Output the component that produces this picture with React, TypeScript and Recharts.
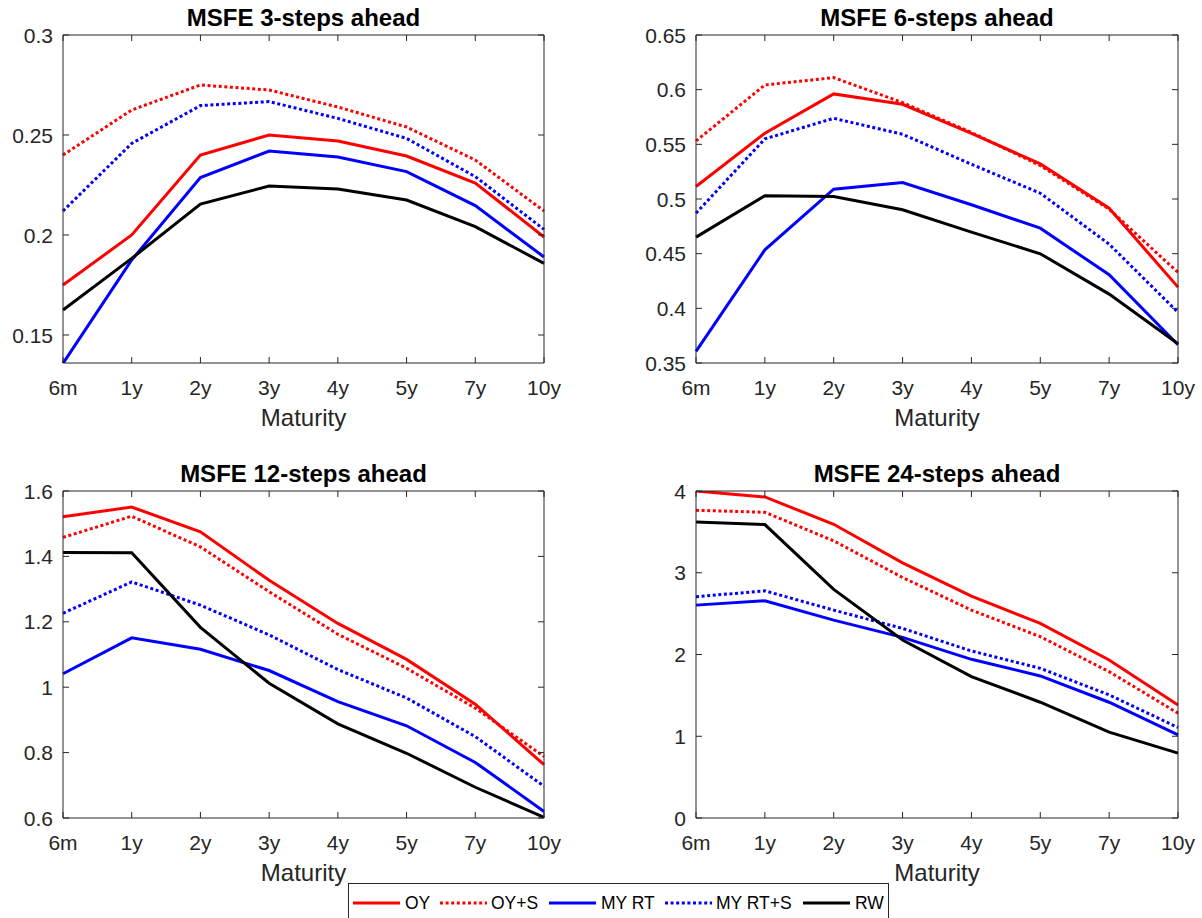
import React from 'react';
import { LineChart, Line, XAxis, YAxis } from 'recharts';

const maturities = ['6m', '1y', '2y', '3y', '4y', '5y', '7y', '10y'];

// MSFE 3-steps ahead
const oy3 = [0.175, 0.2, 0.24, 0.25, 0.247, 0.2395, 0.226, 0.199];
const oys3 = [0.24, 0.2625, 0.275, 0.2725, 0.264, 0.254, 0.2375, 0.212];
const my3 = [0.1358, 0.1875, 0.2287, 0.242, 0.239, 0.2317, 0.2147, 0.189];
const mys3 = [0.212, 0.2458, 0.2647, 0.2667, 0.2583, 0.2483, 0.2292, 0.2028];
const rw3 = [0.1625, 0.1883, 0.2155, 0.2245, 0.223, 0.2175, 0.2042, 0.1858];

// MSFE 6-steps ahead
const oy6 = [0.5114, 0.5601, 0.5961, 0.5866, 0.5601, 0.5321, 0.4916, 0.4194];
const oys6 = [0.5531, 0.6043, 0.611, 0.5882, 0.5608, 0.5306, 0.4907, 0.4328];
const my6 = [0.3606, 0.4535, 0.509, 0.515, 0.4947, 0.4733, 0.4307, 0.3667];
const mys6 = [0.487, 0.555, 0.5738, 0.5592, 0.5318, 0.5053, 0.4587, 0.3963];
const rw6 = [0.4651, 0.5029, 0.5023, 0.4901, 0.4697, 0.4499, 0.413, 0.3676];

// MSFE 12-steps ahead
const oy12 = [1.521, 1.551, 1.475, 1.327, 1.195, 1.085, 0.948, 0.763];
const oys12 = [1.458, 1.523, 1.429, 1.292, 1.162, 1.058, 0.936, 0.788];
const my12 = [1.041, 1.151, 1.116, 1.051, 0.956, 0.882, 0.77, 0.62];
const mys12 = [1.226, 1.322, 1.251, 1.16, 1.054, 0.967, 0.849, 0.697];
const rw12 = [1.412, 1.411, 1.183, 1.012, 0.888, 0.798, 0.694, 0.602];

// MSFE 24-steps ahead
const oy24 = [4.0, 3.927, 3.593, 3.121, 2.714, 2.38, 1.933, 1.383];
const oys24 = [3.764, 3.74, 3.39, 2.942, 2.543, 2.218, 1.79, 1.282];
const my24 = [2.604, 2.657, 2.421, 2.21, 1.941, 1.738, 1.416, 1.017];
const mys24 = [2.706, 2.779, 2.543, 2.319, 2.043, 1.831, 1.506, 1.107];
const rw24 = [3.622, 3.589, 2.796, 2.177, 1.729, 1.416, 1.05, 0.793];

const ticks3 = [0.15, 0.2, 0.25, 0.3];
const ticks6 = [0.35, 0.4, 0.45, 0.5, 0.55, 0.6, 0.65];
const ticks12 = [0.6, 0.8, 1, 1.2, 1.4, 1.6];
const ticks24 = [0, 1, 2, 3, 4];

const seriesNames = ['OY', 'OY+S', 'MY RT', 'MY RT+S', 'RW'];
const seriesKeys = ['oy', 'oys', 'my', 'mys', 'rw'];
const seriesColors = ['#ff0000', '#ff0000', '#0000ff', '#0000ff', '#000000'];
const seriesDotted = [false, true, false, true, false];

const build = (a: number[], b: number[], c: number[], d: number[], e: number[]) =>
  maturities.map((m, i) => ({ m, oy: a[i], oys: b[i], my: c[i], mys: d[i], rw: e[i] }));

const AX = '#262626';
const FONT = '"Liberation Sans", Arial, Helvetica, sans-serif';
const W = 1202;
const H = 918;

const XTick = (props: any) => {
  const { x, y, payload } = props;
  return (
    <text x={x} y={y + 15} textAnchor="middle" fill={AX} fontSize={21} fontFamily={FONT}>
      {payload.value}
    </text>
  );
};

const YTick = (props: any) => {
  const { x, y, payload } = props;
  return (
    <text x={x} y={y + 7.5} textAnchor="end" fill={AX} fontSize={21} fontFamily={FONT}>
      {payload.value}
    </text>
  );
};

const EmptyTick = () => <g />;

type PanelProps = {
  box: { l: number; r: number; t: number; b: number };
  title: string;
  rows: any[];
  domain: [number, number];
  ticks: number[];
};

const YW = 40;
const XH = 40;
const TH = 2;
const RW = 2;
const TICK = 6;

function Panel({ box, title, rows, domain, ticks }: PanelProps) {
  const margin = {
    top: box.t - TH,
    right: W - box.r - RW,
    bottom: H - box.b - XH,
    left: box.l - YW,
  };
  const cx = (box.l + box.r) / 2;
  return (
    <div style={{ position: 'absolute', left: 0, top: 0, width: W, height: H }}>
      <div
        style={{
          position: 'absolute',
          left: cx - 200,
          width: 400,
          top: box.t - 9 - 20.3,
          textAlign: 'center',
          fontFamily: FONT,
          fontWeight: 'bold',
          fontSize: 24,
          lineHeight: '24px',
          color: '#000',
          whiteSpace: 'nowrap',
        }}
      >
        {title}
      </div>
      <div
        style={{
          position: 'absolute',
          left: cx - 200,
          width: 400,
          top: box.b + 63 - 20.3,
          textAlign: 'center',
          fontFamily: FONT,
          fontSize: 24,
          lineHeight: '24px',
          color: AX,
          whiteSpace: 'nowrap',
        }}
      >
        Maturity
      </div>
      <div style={{ position: 'absolute', left: 0, top: 0 }}>
        <LineChart width={W} height={H} data={rows} margin={margin}>
          <XAxis
            xAxisId="b"
            dataKey="m"
            orientation="bottom"
            height={XH}
            interval={0}
            tickSize={-TICK}
            tickMargin={17 + TICK}
            stroke={AX}
            tick={XTick}
          />
          <XAxis
            xAxisId="t"
            dataKey="m"
            orientation="top"
            height={TH}
            interval={0}
            tickSize={-TICK}
            tickMargin={0}
            stroke={AX}
            tick={EmptyTick}
          />
          <YAxis
            yAxisId="l"
            orientation="left"
            width={YW}
            type="number"
            domain={domain}
            ticks={ticks}
            allowDataOverflow
            interval={0}
            tickSize={-TICK}
            tickMargin={10 + TICK}
            stroke={AX}
            tick={YTick}
          />
          <YAxis
            yAxisId="r"
            orientation="right"
            width={RW}
            type="number"
            domain={domain}
            ticks={ticks}
            allowDataOverflow
            interval={0}
            tickSize={-TICK}
            tickMargin={0}
            stroke={AX}
            tick={EmptyTick}
          />
          {seriesKeys.map((k, i) => (
            <Line
              key={k}
              xAxisId="b"
              yAxisId="l"
              type="linear"
              dataKey={k}
              name={seriesNames[i]}
              stroke={seriesColors[i]}
              strokeWidth={3}
              strokeDasharray={seriesDotted[i] ? '3 2.6' : undefined}
              strokeLinecap="butt"
              strokeLinejoin="miter"
              dot={false}
              activeDot={false}
              isAnimationActive={false}
            />
          ))}
          <Line
            xAxisId="t"
            yAxisId="r"
            dataKey="rw"
            stroke="transparent"
            strokeWidth={0}
            dot={false}
            activeDot={false}
            legendType="none"
            isAnimationActive={false}
          />
        </LineChart>
      </div>
    </div>
  );
}

const legendLineX = [353, 440, 549, 665, 803];
const legendTextX = [405, 491, 601, 716, 855];
const LEG_L = 348;
const LEG_T = 883;

function LegendBox() {
  return (
    <div
      style={{
        position: 'absolute',
        left: LEG_L,
        top: LEG_T,
        width: 541,
        height: 50,
        border: '1px solid #262626',
        background: '#fff',
        boxSizing: 'border-box',
      }}
    >
      <svg width={539} height={48} style={{ position: 'absolute', left: 0, top: 0 }}>
        {seriesNames.map((n, i) => (
          <g key={n}>
            <line
              x1={legendLineX[i] - LEG_L - 1}
              x2={legendLineX[i] - LEG_L - 1 + 47}
              y1={903 - LEG_T - 1}
              y2={903 - LEG_T - 1}
              stroke={seriesColors[i]}
              strokeWidth={3}
              strokeDasharray={seriesDotted[i] ? '3 2.6' : undefined}
            />
            <text
              x={legendTextX[i] - LEG_L - 1}
              y={909.3 - LEG_T - 1}
              fontSize={17.5}
              fontFamily={FONT}
              fill="#000"
            >
              {n}
            </text>
          </g>
        ))}
      </svg>
    </div>
  );
}

export default function App() {
  return (
    <div
      style={{
        position: 'absolute',
        left: 0,
        top: 0,
        width: W,
        height: H,
        background: '#fff',
        overflow: 'hidden',
      }}
    >
      <Panel
        box={{ l: 63, r: 544, t: 35, b: 363 }}
        title="MSFE 3-steps ahead"
        rows={build(oy3, oys3, my3, mys3, rw3)}
        domain={[0.136, 0.3]}
        ticks={ticks3}
      />
      <Panel
        box={{ l: 696, r: 1178, t: 35, b: 363 }}
        title="MSFE 6-steps ahead"
        rows={build(oy6, oys6, my6, mys6, rw6)}
        domain={[0.35, 0.65]}
        ticks={ticks6}
      />
      <Panel
        box={{ l: 63, r: 544, t: 491, b: 818 }}
        title="MSFE 12-steps ahead"
        rows={build(oy12, oys12, my12, mys12, rw12)}
        domain={[0.6, 1.6]}
        ticks={ticks12}
      />
      <Panel
        box={{ l: 696, r: 1178, t: 491, b: 818 }}
        title="MSFE 24-steps ahead"
        rows={build(oy24, oys24, my24, mys24, rw24)}
        domain={[0, 4]}
        ticks={ticks24}
      />
      <LegendBox />
    </div>
  );
}
